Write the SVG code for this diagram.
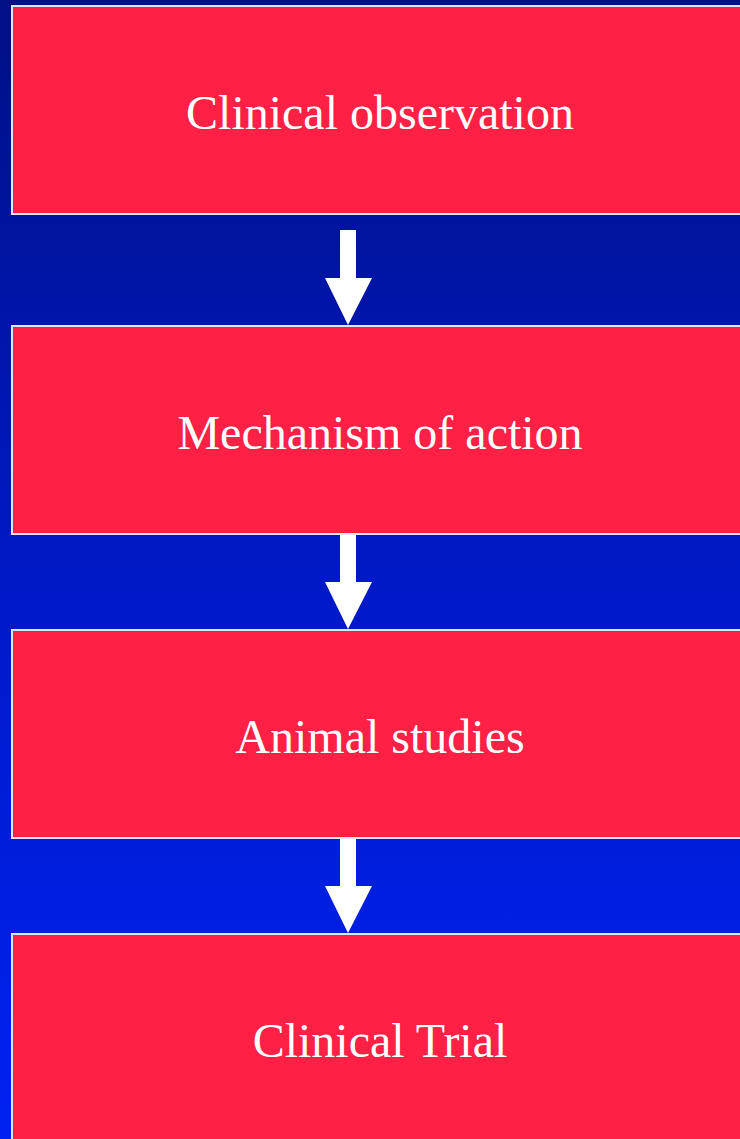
<svg xmlns="http://www.w3.org/2000/svg" width="740" height="1139" viewBox="0 0 740 1139">
<defs>
<linearGradient id="bg" x1="0" y1="0" x2="0" y2="1">
<stop offset="0" stop-color="#001085"/>
<stop offset="0.5" stop-color="#0019c6"/>
<stop offset="1" stop-color="#0022f2"/>
</linearGradient>
<style>
.box{fill:#ff2045;stroke:#e4e6ff;stroke-width:2}
.lbl{font-family:"Liberation Serif","Times New Roman",serif;font-size:48px;fill:#ffffff;text-anchor:middle}
.arr{fill:#ffffff}
</style>
</defs>
<rect x="0" y="0" width="740" height="1139" fill="url(#bg)"/>
<g id="node-clinical-observation">
<rect class="box" x="12" y="6" width="740" height="208"/>
<text class="lbl" x="380" y="129">Clinical observation</text>
</g>
<g id="node-mechanism">
<rect class="box" x="12" y="326" width="740" height="208"/>
<text class="lbl" x="380" y="449">Mechanism of action</text>
</g>
<g id="node-animal">
<rect class="box" x="12" y="630" width="740" height="208"/>
<text class="lbl" x="380" y="753">Animal studies</text>
</g>
<g id="node-trial">
<rect class="box" x="12" y="934" width="740" height="220"/>
<text class="lbl" x="380" y="1057">Clinical Trial</text>
</g>
<g id="connectors">
<polygon class="arr" points="340,230 356,230 356,278 372,278 348,325 325,278 340,278"/>
<polygon class="arr" points="340,535 356,535 356,582 372,582 348,629 325,582 340,582"/>
<polygon class="arr" points="340,839 356,839 356,886 372,886 348,933 325,886 340,886"/>
</g>
</svg>
